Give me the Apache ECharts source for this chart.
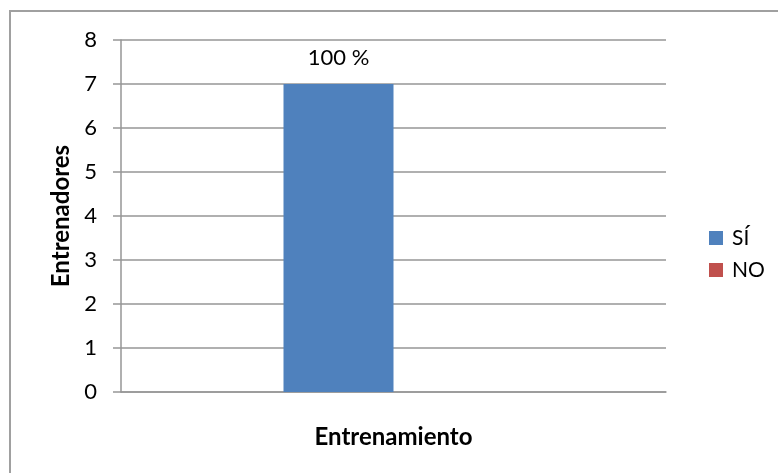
<!DOCTYPE html>
<html>
<head>
<meta charset="utf-8">
<script src="https://cdn.jsdelivr.net/npm/echarts@6/dist/echarts.min.js"></script>
<style>
    html, body { margin: 0; padding: 0; background: #fff; }
    #frame {
        position: absolute; left: 9px; top: 10px; width: 800px; height: 500px;
        border-left: 2px solid #a0a0a0; border-top: 2px solid #a0a0a0;
    }
    #chart { position: absolute; left: 0; top: 0; width: 778px; height: 473px; }
</style>
</head>
<body>
<div id="frame"></div>
<div id="chart"></div>
<script>
const categories = [''];
const seriesNames = ['SÍ', 'NO'];
const siValues = [7];
const noValues = [0];
const siLabels = ['100 %'];
const yTicks = [0, 1, 2, 3, 4, 5, 6, 7, 8];

const FONT = 'Lato, "Open Sans", sans-serif';
const GRID_COLOR = '#969696';

function initChart() {
    const chart = echarts.init(document.getElementById('chart'));

    const option = {
        backgroundColor: 'transparent',
        textStyle: { fontFamily: FONT },
        grid: {
            left: 121,
            right: 112,
            top: 40,
            bottom: 81
        },
        legend: {
            orient: 'vertical',
            left: 709,
            top: 227,
            padding: 0,
            itemWidth: 14,
            itemHeight: 14,
            itemGap: 10,
            icon: 'rect',
            data: seriesNames,
            textStyle: { fontSize: 21, color: '#000', fontFamily: FONT, padding: [0, 0, 0, 4], lineHeight: 22 }
        },
        xAxis: {
            type: 'category',
            data: categories,
            name: 'Entrenamiento',
            nameLocation: 'middle',
            nameGap: 33,
            nameTextStyle: { fontSize: 24, fontWeight: 'bold', color: '#000', fontFamily: FONT },
            axisLine: { lineStyle: { color: GRID_COLOR, width: 1.5 } },
            axisTick: { show: false },
            axisLabel: { show: false },
            splitLine: { show: false }
        },
        yAxis: {
            type: 'value',
            min: yTicks[0],
            max: yTicks[yTicks.length - 1],
            interval: 1,
            name: 'Entrenadores',
            nameLocation: 'middle',
            nameGap: 48,
            nameTextStyle: { fontSize: 24, fontWeight: 'bold', color: '#000', fontFamily: FONT },
            axisLine: { show: true, lineStyle: { color: GRID_COLOR, width: 1.5 } },
            axisTick: { show: true, inside: false, length: 8, lineStyle: { color: GRID_COLOR, width: 1.5 } },
            axisLabel: { color: '#000', fontSize: 22, margin: 24, fontFamily: FONT },
            splitLine: { lineStyle: { color: GRID_COLOR, width: 1.5 } }
        },
        series: [
            {
                name: seriesNames[0],
                type: 'bar',
                barWidth: 110,
                barGap: '0%',
                itemStyle: { color: '#4F81BD' },
                label: {
                    show: true,
                    position: 'top',
                    distance: 15,
                    fontSize: 22,
                    color: '#000',
                    fontFamily: FONT,
                    formatter: p => siLabels[p.dataIndex]
                },
                data: siValues
            },
            {
                name: seriesNames[1],
                type: 'bar',
                barWidth: 110,
                barGap: '0%',
                itemStyle: { color: '#C0504D' },
                data: noValues
            }
        ]
    };

    chart.setOption(option);
}

initChart();
</script>
</body>
</html>
